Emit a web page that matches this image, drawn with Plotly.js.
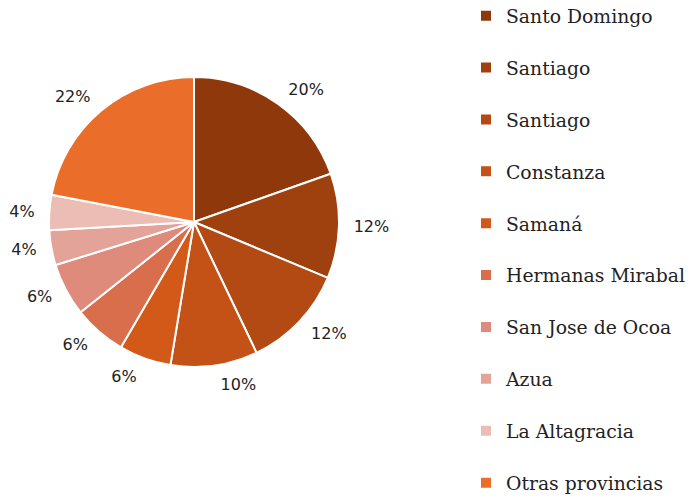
<!DOCTYPE html>
<html>
<head>
<meta charset="utf-8">
<script src="https://cdn.plot.ly/plotly-3.0.1.min.js"></script>
<style>html,body{margin:0;padding:0;background:#fff;}#chart{width:700px;height:501px;}</style>
</head>
<body>
<div id="chart"></div>
<script>
var provinces = ["Santo Domingo", "Santiago", "Santiago\u200b", "Constanza", "Samaná", "Hermanas Mirabal", "San Jose de Ocoa", "Azua", "La Altagracia", "Otras provincias"];
var shares = [19.6, 11.7, 11.6, 9.7, 5.8, 5.9, 5.9, 3.9, 3.9, 22.0];
var sliceColors = ["#8E380C", "#9F400F", "#B44A13", "#C45116", "#D35918", "#D86E4C", "#DE8B7B", "#E3A398", "#EBBDB5", "#EA6D2A"];

var legendLabels = provinces.map(function(p){ return p + "<br> "; });

var W = 700, H = 501, cx = 194, cy = 222, R = 145, RL = 155;

var pieTrace = {
  type: "pie",
  labels: legendLabels,
  values: shares,
  sort: false,
  direction: "clockwise",
  rotation: 0,
  marker: {colors: sliceColors, line: {color: "#ffffff", width: 2}},
  textinfo: "none",
  hoverinfo: "label+percent",
  domain: {x: [(cx-R)/W, (cx+R)/W], y: [(H-cy-R)/H, (H-cy+R)/H]},
  automargin: false
};

var labelTrace = {
  type: "pie",
  labels: legendLabels,
  values: shares,
  sort: false,
  direction: "clockwise",
  rotation: 0,
  showlegend: false,
  marker: {colors: sliceColors.map(function(){ return "rgba(0,0,0,0)"; }), line: {width: 0}},
  texttemplate: "%{percent:.0%}",
  textposition: "outside",
  textfont: {family: "DejaVu Sans, sans-serif", size: 16, color: "#222222"},
  hoverinfo: "skip",
  domain: {x: [(cx-RL)/W, (cx+RL)/W], y: [(H-cy-RL)/H, (H-cy+RL)/H]},
  automargin: false
};

var layout = {
  width: W, height: H,
  margin: {l: 0, r: 0, t: 0, b: 0, autoexpand: false},
  paper_bgcolor: "#ffffff",
  showlegend: true,
  legend: {
    x: 466/700, xanchor: "left", y: 1.006, yanchor: "top",
    font: {family: "DejaVu Serif, serif", size: 18.8, color: "#222222"},
    valign: "top",
    itemwidth: 30,
    maxheight: 700,
    bgcolor: "rgba(0,0,0,0)"
  }
};

Plotly.newPlot("chart", [pieTrace, labelTrace], layout, {displayModeBar: false, staticPlot: true});
</script>
</body>
</html>
